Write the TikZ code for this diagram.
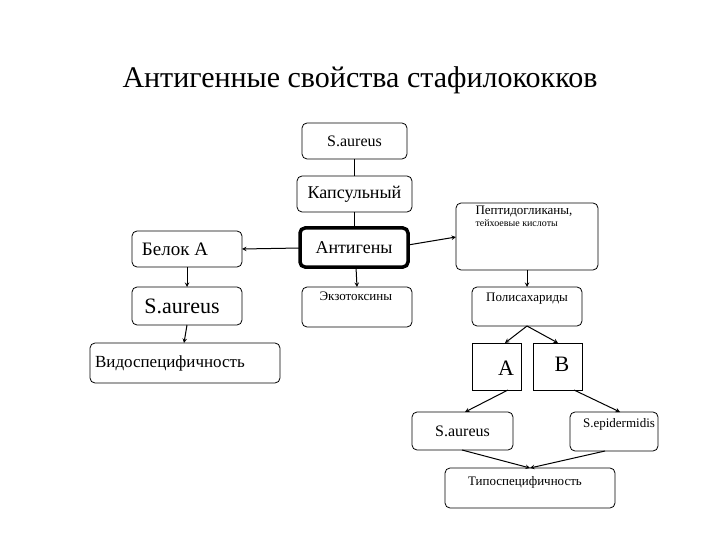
\documentclass[tikz,border=0pt]{standalone}
\usepackage{fontspec}
\setmainfont{LiberationSerif}[Extension=.ttf,UprightFont=*-Regular,BoldFont=*-Bold]
\begin{document}
\begin{tikzpicture}[x=1pt,y=-1pt,
 bx/.style={draw,rounded corners=5pt,line width=0.8pt},
 sq/.style={draw,line width=0.8pt},
 ar/.style={->,>=stealth,line width=1pt},
 ln/.style={line width=1.2pt}]
\useasboundingbox (0,0) rectangle (720,540);
\node at (360,80) {\fontsize{30}{34}\selectfont Антигенные свойства стафилококков};
\draw[bx] (302,123) rectangle (407,159) node[pos=.5] (sa) {\fontsize{16}{18}\selectfont S.aureus};
\coordinate (saS) at (354.5,159);
\draw[bx] (297,176) rectangle (412,212) node[pos=.5] (kap) {\fontsize{18}{20}\selectfont Капсульный};
\coordinate (kapN) at (354.5,176); \coordinate (kapS) at (354.5,212);
\draw[bx,line width=3.5pt] (300,228) rectangle (408,267) node[pos=.5] (ant) {\fontsize{18}{20}\selectfont Антигены};
\coordinate (antN) at (354.5,228); \coordinate (antW) at (300,248); \coordinate (antE) at (408,245); \coordinate (antS) at (356,267);
\draw[bx] (132,231) rectangle (242,267) node[pos=.5,xshift=-12pt] (bel) {\fontsize{19}{21}\selectfont Белок А};
\coordinate (belE) at (242,249); \coordinate (belS) at (187,267);
\draw[bx] (132,287) rectangle (242,325) node[pos=.5,xshift=-5pt] (sa2) {\fontsize{22}{24}\selectfont S.aureus};
\coordinate (sa2N) at (187,287); \coordinate (sa2S) at (187,325);
\draw[bx] (90,343) rectangle (280,383) node[pos=.5,xshift=-15pt] (vid) {\fontsize{17}{19}\selectfont Видоспецифичность};
\coordinate (vidN) at (184,343);
\draw[bx] (302,287) rectangle (412,327);
\node[anchor=north west] (exo) at (316,288) {\fontsize{13}{15}\selectfont Экзотоксины};
\coordinate (exoN) at (357,287);
\draw[bx] (456,203) rectangle (598,270);
\node[anchor=north west,align=left] (pep) at (472,202) {\fontsize{13}{17}\selectfont Пептидогликаны,\\ тейхоевые кислоты};
\coordinate (pepW) at (456,237); \coordinate (pepS) at (527,270);
\draw[bx] (472,287) rectangle (582,326);
\node (pol) at (527,299) {\fontsize{13}{15}\selectfont Полисахариды};
\coordinate (polN) at (527,287); \coordinate (polS) at (527,326);
\draw[sq] (472,343) rectangle (521,390); \node (a) at (506,368) {\fontsize{22}{24}\selectfont A};
\draw[sq] (533,343) rectangle (582,390); \node (b) at (562,364) {\fontsize{22}{24}\selectfont B};
\coordinate (aN) at (505,343); \coordinate (bN) at (558,343);
\coordinate (aS) at (508,390); \coordinate (bS) at (574,390);
\draw[bx] (412,412) rectangle (513,450) node[pos=.5] (sa3) {\fontsize{16}{18}\selectfont S.aureus};
\coordinate (sa3N) at (465,412); \coordinate (sa3S) at (462,450);
\draw[bx] (570,412) rectangle (658,451);
\node (sep) at (619,424) {\fontsize{13}{15}\selectfont S.epidermidis};
\coordinate (sepN) at (620,412); \coordinate (sepS) at (605,451);
\draw[bx] (445,468) rectangle (615,508);
\node (tip) at (525,482) {\fontsize{13}{15}\selectfont Типоспецифичность};
\coordinate (tipN) at (530,468);
\draw[ln] (saS) -- (kapN);
\draw[ln] (kapS) -- (antN);
\draw[ar] (antW) -- (belE);
\draw[ar] (antE) -- (pepW);
\draw[ar] (antS) -- (exoN);
\draw[ar] (belS) -- (sa2N);
\draw[ar] (sa2S) -- (vidN);
\draw[ar] (pepS) -- (polN);
\draw[ar] (polS) -- (aN);
\draw[ar] (polS) -- (bN);
\draw[ar] (aS) -- (sa3N);
\draw[ar] (bS) -- (sepN);
\draw[ar] (sa3S) -- (tipN);
\draw[ar] (sepS) -- (tipN);
\end{tikzpicture}
\end{document}
